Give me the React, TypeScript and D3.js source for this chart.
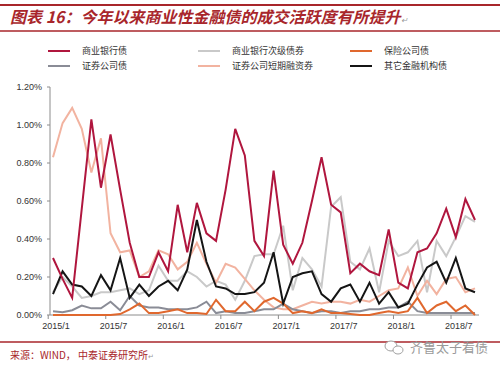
import * as d3 from "d3";

const xTicks = ["2015/1", "2015/7", "2016/1", "2016/7", "2017/1", "2017/7", "2018/1", "2018/7"];
const yTicks = [0, 0.002, 0.004, 0.006, 0.008, 0.01, 0.012];

// 2015/1 .. 2018/9, monthly, in %
const bankBonds = [
  0.30, 0.19, 0.09, 0.56, 1.03, 0.67, 0.95, 0.66, 0.38, 0.20, 0.20, 0.33,
  0.23, 0.58, 0.33, 0.59, 0.43, 0.39, 0.66, 0.98, 0.84, 0.39, 0.31, 0.76,
  0.37, 0.27, 0.38, 0.60, 0.83, 0.58, 0.54, 0.22, 0.27, 0.23, 0.21, 0.45,
  0.17, 0.14, 0.33, 0.35, 0.43, 0.56, 0.41, 0.61, 0.50,
];
const subDebt = [
  0.12, 0.20, 0.15, 0.09, 0.10, 0.12, 0.12, 0.13, 0.14, 0.11, 0.13, 0.26,
  0.18, 0.18, 0.23, 0.20, 0.15, 0.18, 0.16, 0.08, 0.18, 0.31, 0.32, 0.32,
  0.47, 0.13, 0.30, 0.24, 0.15, 0.57, 0.62, 0.28, 0.24, 0.35, 0.12, 0.39,
  0.31, 0.33, 0.39, 0.12, 0.39, 0.31, 0.41, 0.52, 0.49,
];
const insurance = [
  0, 0, 0, 0, 0, 0, 0, 0.005, 0.03, 0.06, 0.01, 0.01,
  0.02, 0.03, 0.01, 0.01, 0.005, 0.08, 0.02, 0.02, 0.07, 0.02, 0.07, 0.09,
  0.06, 0.01, 0.02, 0.01, 0.03, 0.01, 0.01, 0.005, 0, 0, 0.01, 0.02,
  0.01, 0.02, 0.09, 0.01, 0.05, 0.07, 0.02, 0.05, 0.0,
];
const securities = [
  0.02, 0.015, 0.025, 0.05, 0.035, 0.035, 0.07, 0.025, 0.10, 0.05, 0.04, 0.04,
  0.03, 0.03, 0.03, 0.04, 0.07, 0.01, 0.02, 0.01, 0.01, 0.02, 0.03, 0.03,
  0.06, 0.03, 0.02, 0.01, 0.02, 0.02, 0.01, 0.02, 0.02, 0.03, 0.03, 0.04,
  0.04, 0.07, 0.02, 0.01, 0.01, 0.01, 0.01, 0.01, 0.01,
];
const shortTerm = [
  0.83, 1.01, 1.09, 0.98, 0.75, 0.93, 0.43, 0.33, 0.34, 0.20, 0.23, 0.34,
  0.32, 0.24, 0.28, 0.38, 0.27, 0.17, 0.27, 0.25, 0.19, 0.13, 0.08, 0.04,
  0.03, 0.03, 0.05, 0.07, 0.06, 0.07, 0.07, 0.06, 0.08, 0.07, 0.10, 0.13,
  0.14, 0.25, 0.10, 0.18, 0.11, 0.19, 0.20, 0.12, 0.14,
];
const otherInst = [
  0.11, 0.23, 0.16, 0.15, 0.10, 0.21, 0.13, 0.30, 0.09, 0.16, 0.10, 0.15,
  0.18, 0.13, 0.24, 0.50, 0.28, 0.15, 0.14, 0.11, 0.11, 0.12, 0.17, 0.33,
  0.06, 0.20, 0.22, 0.23, 0.11, 0.07, 0.14, 0.16, 0.07, 0.17, 0.06, 0.12,
  0.04, 0.06, 0.16, 0.25, 0.28, 0.17, 0.30, 0.14, 0.12,
];

const series = [
  { name: "商业银行债", values: bankBonds, color: "#B0163E" },
  { name: "商业银行次级债券", values: subDebt, color: "#C9C9C9" },
  { name: "保险公司债", values: insurance, color: "#E0682E" },
  { name: "证券公司债", values: securities, color: "#8A8C96" },
  { name: "证券公司短期融资券", values: shortTerm, color: "#F2B3A0" },
  { name: "其它金融机构债", values: otherInst, color: "#151515" },
];

const W = 500;
const H = 368;
const red = "#A8262B";
const axisColor = "#8C8C8C";
const cjk = "'Noto Sans CJK SC', sans-serif";
const latin = "Arial, 'Liberation Sans', sans-serif";

export default function App() {
  const n = bankBonds.length;
  const x = d3.scaleLinear().domain([0, n - 1]).range([53, 475]);
  const y = d3.scaleLinear().domain([0, 0.012]).range([315, 87]);
  const step = x(1) - x(0);
  const fmt = d3.format(".2%");

  const line = d3
    .line<number>()
    .x((_, i) => x(i))
    .y((d) => y(d / 100));

  // draw order: keep red on top
  const drawOrder = [1, 4, 3, 2, 5, 0];

  const legendCols = [48, 198, 350];
  const legendRows = [51, 66];

  return (
    <svg
      width={W}
      height={H}
      style={{ position: "absolute", left: 0, top: 0, background: "#fff" }}
    >
      {/* title band */}
      <line x1={0} x2={W} y1={5} y2={5} stroke={red} strokeWidth={2} />
      <text
        x={10}
        y={23}
        fontFamily={cjk}
        fontSize={16}
        fontWeight="bold"
        fontStyle="italic"
        fill={red}
      >
        图表 16：今年以来商业性金融债的成交活跃度有所提升
        <tspan fontSize={8} fill="#999" fontWeight="normal">↵</tspan>
      </text>
      <line x1={0} x2={W} y1={31} y2={31} stroke={red} strokeWidth={1.5} />

      {/* legend */}
      {series.map((s, i) => {
        const cx = legendCols[i % 3];
        const cy = legendRows[Math.floor(i / 3)];
        return (
          <g key={s.name}>
            <line x1={cx} x2={cx + 22} y1={cy} y2={cy} stroke={s.color} strokeWidth={2} />
            <text x={cx + 34} y={cy + 3} fontFamily={cjk} fontSize={9} fill="#333">
              {s.name}
            </text>
          </g>
        );
      })}

      {/* y axis */}
      <line x1={50} x2={50} y1={y(0.012)} y2={y(0)} stroke={axisColor} />
      {yTicks.map((t) => (
        <g key={t}>
          <line x1={47} x2={50} y1={y(t)} y2={y(t)} stroke={axisColor} />
          <text
            x={42}
            y={y(t) + 3}
            textAnchor="end"
            fontFamily={latin}
            fontSize={9}
            fill="#333"
          >
            {fmt(t)}
          </text>
        </g>
      ))}

      {/* x axis */}
      <line x1={50} x2={479} y1={y(0)} y2={y(0)} stroke={axisColor} />
      {xTicks.map((t, k) => {
        const i = k * 6;
        return (
          <g key={t}>
            <line
              x1={x(i) - step / 2}
              x2={x(i) - step / 2}
              y1={y(0)}
              y2={y(0) + 4}
              stroke={axisColor}
            />
            <text
              x={x(i) + 3}
              y={y(0) + 14}
              textAnchor="middle"
              fontFamily={latin}
              fontSize={9}
              fill="#333"
            >
              {t}
            </text>
          </g>
        );
      })}

      {/* series */}
      {drawOrder.map((k) => (
        <path
          key={series[k].name}
          d={line(series[k].values) || ""}
          fill="none"
          stroke={series[k].color}
          strokeWidth={2}
          strokeLinejoin="miter"
        />
      ))}

      {/* footer */}
      <line x1={0} x2={W} y1={342} y2={342} stroke={red} strokeWidth={1.5} />
      <text x={10} y={359} fontFamily={cjk} fontSize={10} fill={red}>
        来源：WIND， 中泰证券研究所
        <tspan fontSize={7} fill="#999">↵</tspan>
      </text>

      {/* watermark */}
      <g stroke="#A0A0A0" fill="#fff" strokeWidth={1}>
        <ellipse cx={391} cy={346} rx={6} ry={5} />
        <ellipse cx={398} cy={350} rx={5} ry={4} />
      </g>
      <text x={410} y={352} fontFamily={cjk} fontSize={13} fill="#9A9A9A">
        齐鲁太子看债
      </text>
    </svg>
  );
}
